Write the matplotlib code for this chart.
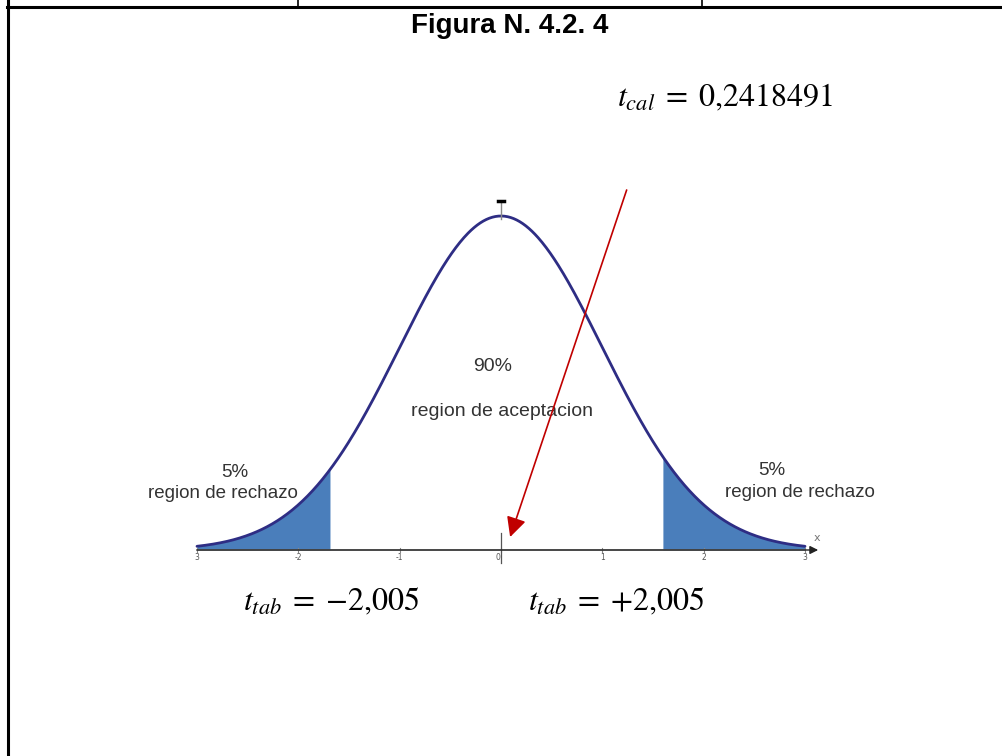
import numpy as np
import matplotlib
matplotlib.use("Agg")
import matplotlib.pyplot as plt
from matplotlib.lines import Line2D

# ---- data ----
title = "Figura N. 4.2. 4"
mu, sigma = 0.0, 1.0
x_range = [-3.0, 3.0]
crit_left, crit_right = -1.68, 1.59          # shaded tails as drawn
tick_pos = [-3, -2, -1, 0, 1, 2, 3]
tick_labels = ["3", "-2", "-1", "0", "1", "2", "3"]
pct_center, txt_center = "90%", "region de aceptacion"
pct_tail, txt_tail = "5%", "region de rechazo"
t_cal = "0,2418491"
t_tab_left = "\u22122,005"
t_tab_right = "+2,005"

plt.rcParams['mathtext.fontset'] = 'stix'

W, H = 1003, 756
fig = plt.figure(figsize=(W / 100, H / 100), dpi=100)

def fx(px):
    return px / W

def fy(py):
    return 1 - py / H

# page / table lines
fig.add_artist(Line2D([fx(7), 1], [fy(7), fy(7)], color='black', lw=2.2, transform=fig.transFigure))
fig.add_artist(Line2D([fx(8), fx(8)], [0, 1], color='black', lw=2.2, transform=fig.transFigure))
for xp in (298, 702):
    fig.add_artist(Line2D([fx(xp), fx(xp)], [fy(7), 1], color='black', lw=1.2, transform=fig.transFigure))

fig.text(fx(510), fy(26), title, ha='center', va='center', fontsize=20, fontweight='bold',
         family=['Liberation Sans Narrow', 'Liberation Sans'], color='black')

# ---- curve axes ----
peak = 1 / (sigma * np.sqrt(2 * np.pi))
ax = fig.add_axes([fx(197), fy(550), fx(805) - fx(197), (550 - 216) / H])
ax.set_xlim(*x_range)
ax.set_ylim(0, peak)
ax.axis('off')

xs = np.linspace(x_range[0], x_range[1], 600)
ys = np.exp(-0.5 * ((xs - mu) / sigma) ** 2) / (sigma * np.sqrt(2 * np.pi))

fill_col = '#4a7ebb'
ax.fill_between(xs, 0, ys, where=xs <= crit_left, color=fill_col, lw=0, clip_on=False)
ax.fill_between(xs, 0, ys, where=xs >= crit_right, color=fill_col, lw=0, clip_on=False)
ax.plot(xs, ys, color='#2e2d84', lw=2.0, clip_on=False, solid_capstyle='round')

# x axis with arrow
ax.annotate('', xy=(3.13, 0), xytext=(-3.0, 0), xycoords='data',
            arrowprops=dict(arrowstyle='-|>', color='#222222', lw=1.0, mutation_scale=12,
                            shrinkA=0, shrinkB=0), annotation_clip=False)
ax.plot([-3, 3], [0, 0], color='#9a9a9a', lw=1.2, clip_on=False)
ax.text(3.12, 0.008, 'x', fontsize=8, color='#777777', ha='center', va='bottom')
for p, lab in zip(tick_pos, tick_labels):
    ax.plot([p, p], [-0.0025, 0.0025], color='#888888', lw=0.8, clip_on=False)
    ax.text(p - (0.03 if p == 0 else 0), -0.0085, lab, fontsize=5.5, color='#555555',
            ha='center', va='center')
# marker at zero on axis
ax.plot([0, 0], [-0.016, 0.020], color='#555555', lw=0.9, clip_on=False)
# marker at peak
ax.plot([0, 0], [peak - 0.004, peak + 0.018], color='#888888', lw=1.0, clip_on=False)
ax.plot([-0.03, 0.03], [peak + 0.018, peak + 0.018], color='black', lw=2.5, clip_on=False)

# labels
txt_col = '#333333'
lab_font = ['Liberation Sans', 'DejaVu Sans']
ax.text(-0.08, 0.2189, pct_center, fontsize=14, color=txt_col, ha='center', va='center', family=lab_font)
ax.text(0.01, 0.1652, txt_center, fontsize=14, color=txt_col, ha='center', va='center', family=lab_font)
ax.text(-2.63, 0.0931, pct_tail, fontsize=13.5, color=txt_col, ha='center', va='center', family=lab_font)
ax.text(-2.74, 0.0680, txt_tail, fontsize=13.5, color=txt_col, ha='center', va='center', family=lab_font)
ax.text(2.67, 0.0955, pct_tail, fontsize=13.5, color=txt_col, ha='center', va='center', family=lab_font)
ax.text(2.95, 0.0692, txt_tail, fontsize=13.5, color=txt_col, ha='center', va='center', family=lab_font)

# red arrow pointing at t_cal
ax.annotate('', xy=(0.09, 0.0155), xytext=(1.24, 0.43), xycoords='data',
            arrowprops=dict(arrowstyle='-|>', color='#c00000', lw=1.2, mutation_scale=30,
                            shrinkA=0, shrinkB=0), annotation_clip=False)

# math labels
mfont = ['STIXGeneral', 'DejaVu Serif']
eq = r'$\;=\;$'
fig.text(fx(617), fy(106), r'$t_{cal}$' + eq + t_cal, fontsize=23, ha='left',
         va='baseline', color='black', family=mfont)
fig.text(fx(243), fy(610), r'$t_{tab}$' + eq + t_tab_left, fontsize=23, ha='left',
         va='baseline', color='black', family=mfont)
fig.text(fx(528), fy(610), r'$t_{tab}$' + eq + t_tab_right, fontsize=23, ha='left',
         va='baseline', color='black', family=mfont)

fig.savefig('out.png', dpi=100)
